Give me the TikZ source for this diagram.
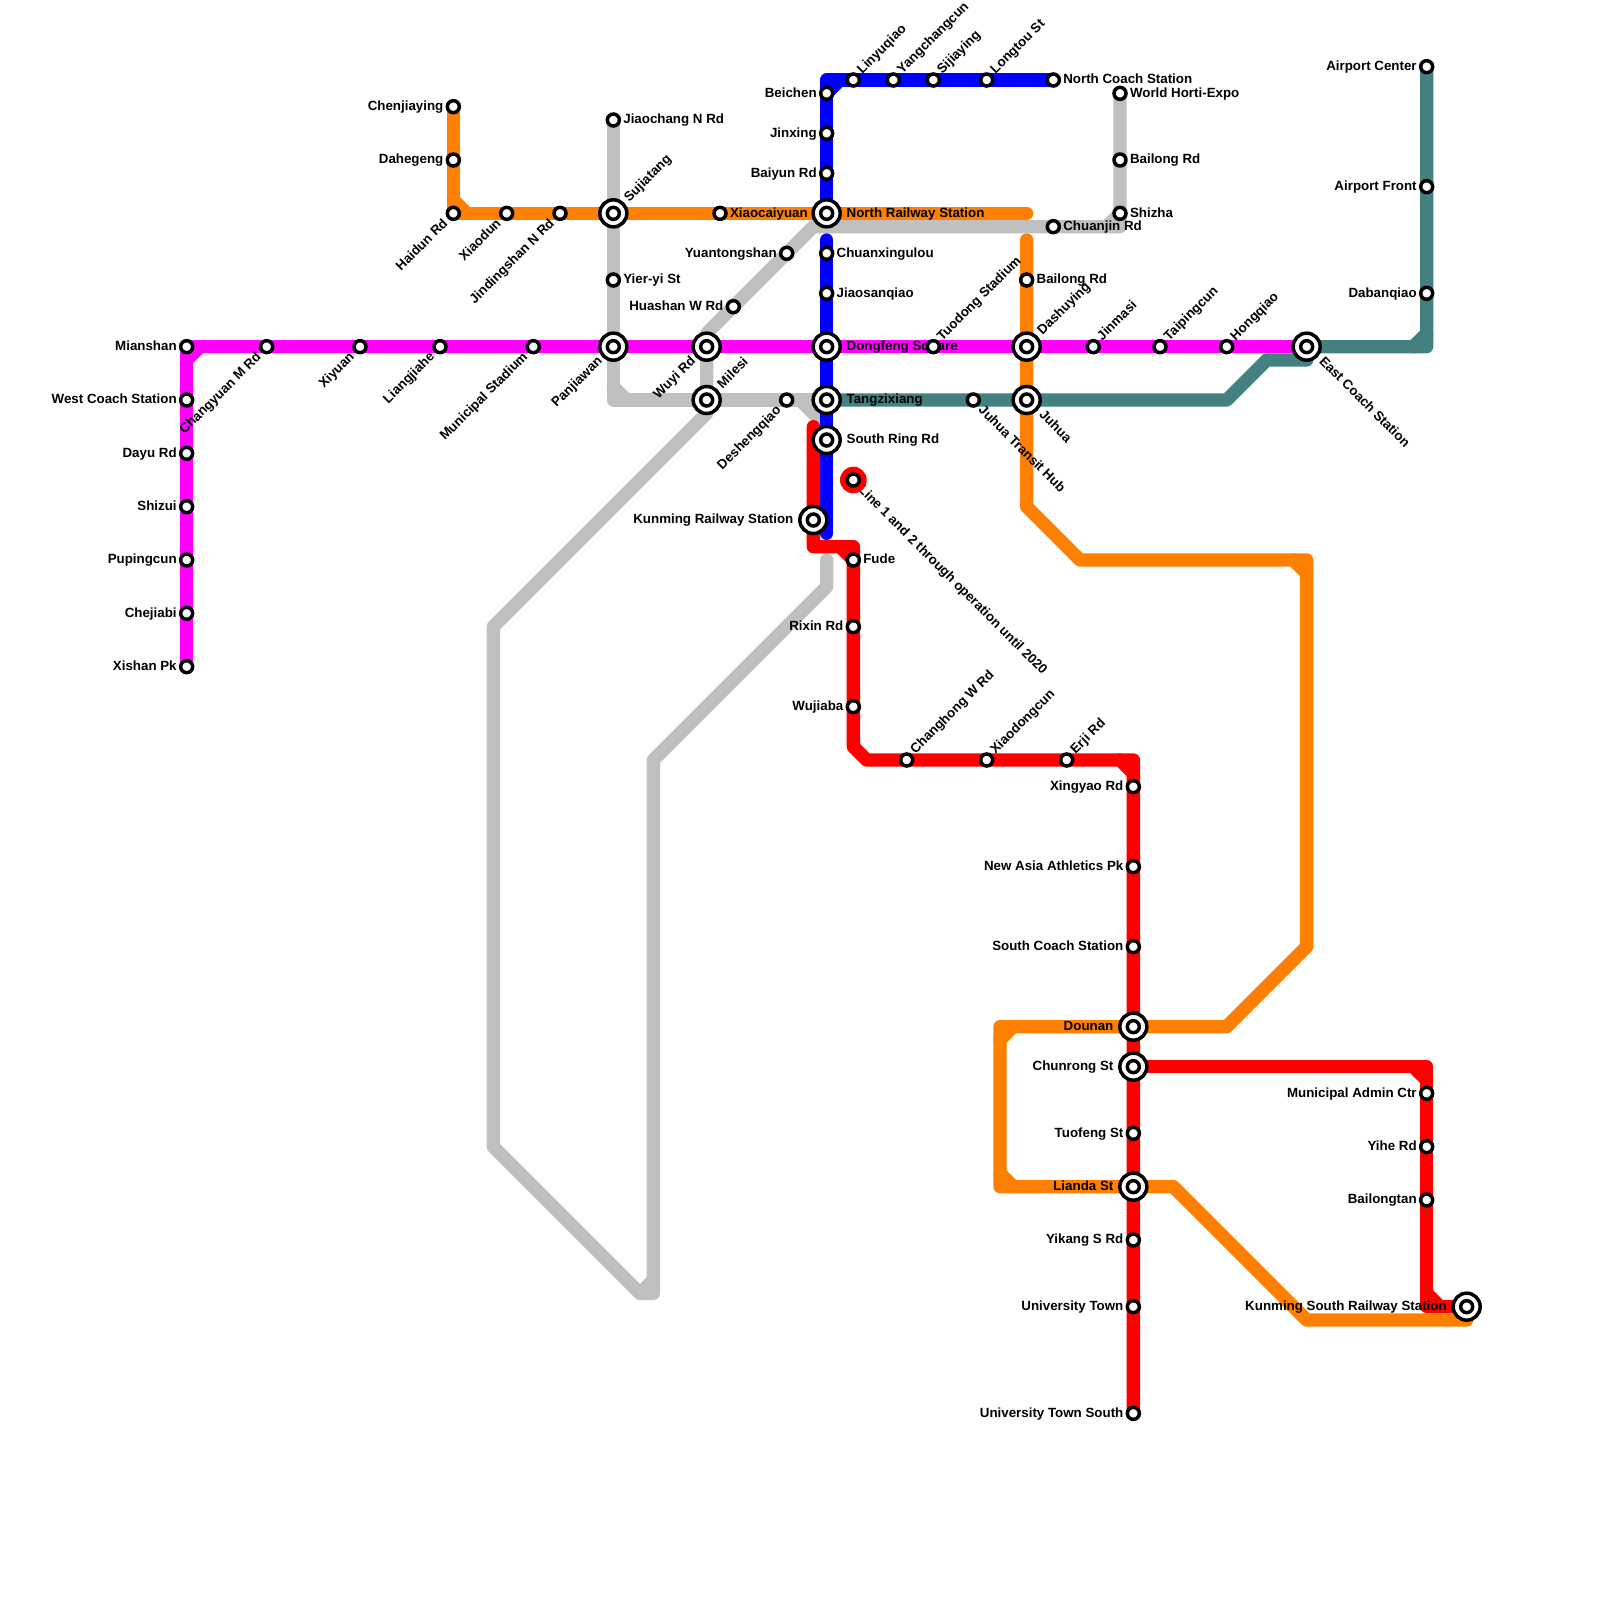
\documentclass[tikz,border=0pt]{standalone}
\usepackage{fontspec}
\setmainfont{Liberation Sans}[BoldFont={Liberation Sans Bold}]
\usetikzlibrary{calc}
\pgfdeclarelayer{lines}\pgfdeclarelayer{labels}
\pgfsetlayers{lines,labels,main}
\definecolor{cGray}{HTML}{C0C0C0}
\definecolor{cTeal}{HTML}{448080}
\definecolor{cOrange}{HTML}{FF8000}
\definecolor{cMag}{HTML}{FF00FF}
\definecolor{cBlue}{HTML}{0000FF}
\definecolor{cRed}{HTML}{FF0000}
\tikzset{
  metro/.style={line width=13.33pt,line join=round,line cap=round},
  stnA/.style={circle,draw=black,fill=white,line width=3.5pt,inner sep=0pt,outer sep=0pt,minimum size=12pt},
  stnB/.style={circle,draw=black,fill=white,line width=3.5pt,inner sep=0pt,outer sep=0pt,minimum size=27pt},
  lbl/.style={font=\fontsize{13.33}{15}\selectfont\bfseries,text=black,inner sep=0pt,outer sep=0pt},
}
\newcommand\sA[3]{\node[stnA] (#1) at (#2,#3) {};}
\newcommand\sB[3]{\node[stnB] (#1) at (#2,#3) {};\node[stnA] (#1-in) at (#2,#3) {};}
% label: station, dx, dy, anchor, rotation, text
\newcommand\lab[6]{\node[lbl,anchor=#4,rotate=#5] (#1-t) at ([shift={(#2pt,#3pt)}]#1.center) {#6};}
\newcommand\rS[2]{\lab{#1}{10}{-3.7}{base west}{0}{#2}}
\newcommand\rD[2]{\lab{#1}{20}{-3.7}{base west}{0}{#2}}
\newcommand\lS[2]{\lab{#1}{-10}{-3.7}{base east}{0}{#2}}
\newcommand\lD[2]{\lab{#1}{-20}{-3.7}{base east}{0}{#2}}
\newcommand\uS[2]{\lab{#1}{9}{5.5}{base west}{45}{#2}}
\newcommand\uD[2]{\lab{#1}{16}{11}{base west}{45}{#2}}
\newcommand\bS[2]{\lab{#1}{-5}{-11}{base east}{45}{#2}}
\newcommand\bD[2]{\lab{#1}{-10.5}{-15}{base east}{45}{#2}}
\newcommand\dS[2]{\lab{#1}{4.5}{-10.8}{base west}{-45}{#2}}
\newcommand\dD[2]{\lab{#1}{12}{-15.5}{base west}{-45}{#2}}
\begin{document}
\begin{tikzpicture}[x=13.3333pt,y=-13.3333pt]
\useasboundingbox (0,0) rectangle (120,120);
% magenta stations
\sA{mianshan}{14}{26}\sA{westcoach}{14}{30}\sA{dayu}{14}{34}\sA{shizui}{14}{38}\sA{pupingcun}{14}{42}\sA{chejiabi}{14}{46}\sA{xishan}{14}{50}
\sA{changyuan}{20}{26}\sA{xiyuan}{27}{26}\sA{liangjiahe}{33}{26}\sA{munstadium}{40}{26}
\sB{panjiawan}{46}{26}\sB{wuyi}{53}{26}\sB{dongfeng}{62}{26}\sA{tuodong}{70}{26}\sB{dashuying}{77}{26}
\sA{jinmasi}{82}{26}\sA{taipingcun}{87}{26}\sA{hongqiao}{92}{26}\sB{eastcoach}{98}{26}
% orange stations
\sA{chenjiaying}{34}{8}\sA{dahegeng}{34}{12}\sA{haidun}{34}{16}\sA{xiaodun}{38}{16}\sA{jindingshan}{42}{16}
\sB{sujiatang}{46}{16}\sA{xiaocaiyuan}{54}{16}\sB{northrail}{62}{16}
\sA{bailongA}{77}{21}\sB{juhua}{77}{30}
\sB{dounan}{85}{77}\sB{lianda}{85}{89}\sB{kmsouth}{110}{98}
% red stations
\sB{chunrong}{85}{80}\sA{tuofeng}{85}{85}\sA{yikang}{85}{93}\sA{unitown}{85}{98}\sA{unisouth}{85}{106}
\sB{kmrail}{61}{39}\sA{fude}{64}{42}\sA{rixin}{64}{47}\sA{wujiaba}{64}{53}
\sA{changhong}{68}{57}\sA{xiaodongcun}{74}{57}\sA{erji}{80}{57}
\sA{xingyao}{85}{59}\sA{newasia}{85}{65}\sA{southcoach}{85}{71}
\sA{munadmin}{107}{82}\sA{yihe}{107}{86}\sA{bailongtan}{107}{90}
% blue stations
\sA{northcoach}{79}{6}\sA{longtou}{74}{6}\sA{sijiaying}{70}{6}\sA{yangchang}{67}{6}\sA{linyuqiao}{64}{6}
\sA{beichen}{62}{7}\sA{jinxing}{62}{10}\sA{baiyun}{62}{13}
\sA{chuanxing}{62}{19}\sA{jiaosan}{62}{22}\sB{tangzi}{62}{30}\sB{southring}{62}{33}
% grey stations
\sA{jiaochang}{46}{9}\sA{yieryi}{46}{21}\sB{milesi}{53}{30}\sA{desheng}{59}{30}
\sA{yuantong}{59}{19}\sA{huashan}{55}{23}\sA{chuanjin}{79}{17}\sA{shizha}{84}{16}\sA{bailongB}{84}{12}\sA{worldhorti}{84}{7}
% teal stations
\sA{juhuahub}{73}{30}\sA{airportC}{107}{5}\sA{airportF}{107}{14}\sA{dabanqiao}{107}{22}
% isolated station
\node[circle,fill=cRed,inner sep=0pt,outer sep=0pt,minimum size=26.7pt] (noterim) at (64,36) {};
\sA{note}{64}{36}
% corners
\coordinate (g1) at (46,30);\coordinate (g2) at (60,30);\coordinate (g3) at (62,32);
\coordinate (g4) at (53,31);\coordinate (g5) at (37,47);\coordinate (g6) at (37,86);\coordinate (g7) at (48,97);\coordinate (g8) at (49,97);\coordinate (g9) at (49,57);\coordinate (g10) at (62,44);\coordinate (g11) at (62,42);
\coordinate (g12) at (53,25);\coordinate (g13) at (61,17);\coordinate (g14) at (84,17);
\coordinate (t1) at (92,30);\coordinate (t2) at (95,27);\coordinate (t3) at (98,27);\coordinate (t4) at (107,26);
\coordinate (m1) at (14,26);
\coordinate (b1) at (62,6);\coordinate (b2) at (62,18);\coordinate (b3) at (62,40);
\coordinate (r1) at (61,32);\coordinate (r2) at (61,41);\coordinate (r3) at (64,41);\coordinate (r4) at (64,56);\coordinate (r5) at (65,57);\coordinate (r6) at (85,57);
\coordinate (r7) at (107,80);\coordinate (r8) at (107,98);
\coordinate (o0) at (77,16);\coordinate (o1) at (77,18);\coordinate (o2) at (77,38);\coordinate (o3) at (81,42);\coordinate (o4) at (98,42);\coordinate (o5) at (98,71);\coordinate (o6) at (92,77);\coordinate (o7) at (75,77);\coordinate (o8) at (75,89);\coordinate (o9) at (88,89);\coordinate (o10) at (98,99);\coordinate (o11) at (110,99);
\begin{pgfonlayer}{lines}
\fill[white] (0,0) rectangle (120,120);
\draw[metro,cGray] (jiaochang.center) -- (g1) -- (tangzi.center);
\draw[metro,cGray] (46,29) -- (47,30);
\draw[metro,cGray] (g2) -- (g3);
\draw[metro,cGray] (wuyi.center) -- (g4) -- (g5) -- (g6) -- (g7) -- (g8) -- (g9) -- (g10) -- (g11);
\draw[metro,cGray] (48,97) -- (49,96);
\draw[metro,cGray] (g12) -- (g13) -- (g14) -- (worldhorti.center);
\draw[metro,cGray] (83,17) -- (84,16);
\draw[metro,cTeal] (tangzi.center) -- (t1) -- (t2) -- (t3) -- (eastcoach.center) -- (t4) -- (airportC.center);
\draw[metro,cTeal] (106,26) -- (107,25);
\draw[metro,cMag] (xishan.center) -- (m1) -- (eastcoach.center);
\draw[metro,cMag] (14,27) -- (15,26);
\draw[metro,cBlue] (northcoach.center) -- (b1) -- (northrail.center);
\draw[metro,cBlue] (62,7) -- (63,6);
\draw[metro,cBlue] (b2) -- (b3);
\draw[metro,cRed] (r1) -- (r2) -- (r3) -- (r4) -- (r5) -- (r6) -- (unisouth.center);
\draw[metro,cRed] (63,41) -- (64,42) (84,57) -- (85,58);
\draw[metro,cRed] (chunrong.center) -- (r7) -- (r8) -- (kmsouth.center);
\draw[metro,cRed] (106,80) -- (107,81) (107,97) -- (108,98);
\fill[cRed] (85,78.95) -- (85.7,79.57) -- (85.7,80.43) -- (85,81.05) -- cycle;
\draw[metro,cOrange] (chenjiaying.center) -- (haidun.center) -- (o0);
\draw[metro,cOrange] (34,15) -- (35,16);
\draw[metro,cOrange] (o1) -- (o2) -- (o3) -- (o4) -- (o5) -- (o6) -- (o7) -- (o8) -- (o9) -- (o10) -- (o11) -- (kmsouth.center);
\draw[metro,cOrange] (97,42) -- (98,43) (75,78) -- (76,77) (75,88) -- (76,89);
\end{pgfonlayer}
\begin{pgfonlayer}{labels}
\lS{mianshan}{Mianshan}\lS{westcoach}{West Coach Station}\lS{dayu}{Dayu Rd}\lS{shizui}{Shizui}\lS{pupingcun}{Pupingcun}\lS{chejiabi}{Chejiabi}\lS{xishan}{Xishan Pk}
\bS{changyuan}{Changyuan M Rd}\bS{xiyuan}{Xiyuan}\bS{liangjiahe}{Liangjiahe}\bS{munstadium}{Municipal Stadium}
\bD{panjiawan}{Panjiawan}\bD{wuyi}{Wuyi Rd}\rD{dongfeng}{Dongfeng Square}\uS{tuodong}{Tuodong Stadium}\uD{dashuying}{Dashuying}
\uS{jinmasi}{Jinmasi}\uS{taipingcun}{Taipingcun}\uS{hongqiao}{Hongqiao}\dD{eastcoach}{East Coach Station}
\lS{chenjiaying}{Chenjiaying}\lS{dahegeng}{Dahegeng}\bS{haidun}{Haidun Rd}\bS{xiaodun}{Xiaodun}\bS{jindingshan}{Jindingshan N Rd}
\uD{sujiatang}{Sujiatang}\rS{xiaocaiyuan}{Xiaocaiyuan}\rD{northrail}{North Railway Station}
\rS{bailongA}{Bailong Rd}\dD{juhua}{Juhua}
\lD{dounan}{Dounan}\lD{lianda}{Lianda St}\lD{kmsouth}{Kunming South Railway Station}
\lD{chunrong}{Chunrong St}\lS{tuofeng}{Tuofeng St}\lS{yikang}{Yikang S Rd}\lS{unitown}{University Town}\lS{unisouth}{University Town South}
\lD{kmrail}{Kunming Railway Station}\rS{fude}{Fude}\lS{rixin}{Rixin Rd}\lS{wujiaba}{Wujiaba}
\uS{changhong}{Changhong W Rd}\uS{xiaodongcun}{Xiaodongcun}\uS{erji}{Erji Rd}
\lS{xingyao}{Xingyao Rd}\lS{newasia}{New Asia Athletics Pk}\lS{southcoach}{South Coach Station}
\lS{munadmin}{Municipal Admin Ctr}\lS{yihe}{Yihe Rd}\lS{bailongtan}{Bailongtan}
\rS{northcoach}{North Coach Station}\uS{longtou}{Longtou St}\uS{sijiaying}{Sijiaying}\uS{yangchang}{Yangchangcun}\uS{linyuqiao}{Linyuqiao}
\lS{beichen}{Beichen}\lS{jinxing}{Jinxing}\lS{baiyun}{Baiyun Rd}
\rS{chuanxing}{Chuanxingulou}\rS{jiaosan}{Jiaosanqiao}\rD{tangzi}{Tangzixiang}\rD{southring}{South Ring Rd}
\rS{jiaochang}{Jiaochang N Rd}\rS{yieryi}{Yier-yi St}\uD{milesi}{Milesi}\bS{desheng}{Deshengqiao}
\lS{yuantong}{Yuantongshan}\lS{huashan}{Huashan W Rd}\rS{chuanjin}{Chuanjin Rd}\rS{shizha}{Shizha}\rS{bailongB}{Bailong Rd}\rS{worldhorti}{World Horti-Expo}
\dS{juhuahub}{Juhua Transit Hub}\lS{airportC}{Airport Center}\lS{airportF}{Airport Front}\lS{dabanqiao}{Dabanqiao}
\dS{note}{Line 1 and 2 through operation until 2020}
\end{pgfonlayer}
\end{tikzpicture}
\end{document}
